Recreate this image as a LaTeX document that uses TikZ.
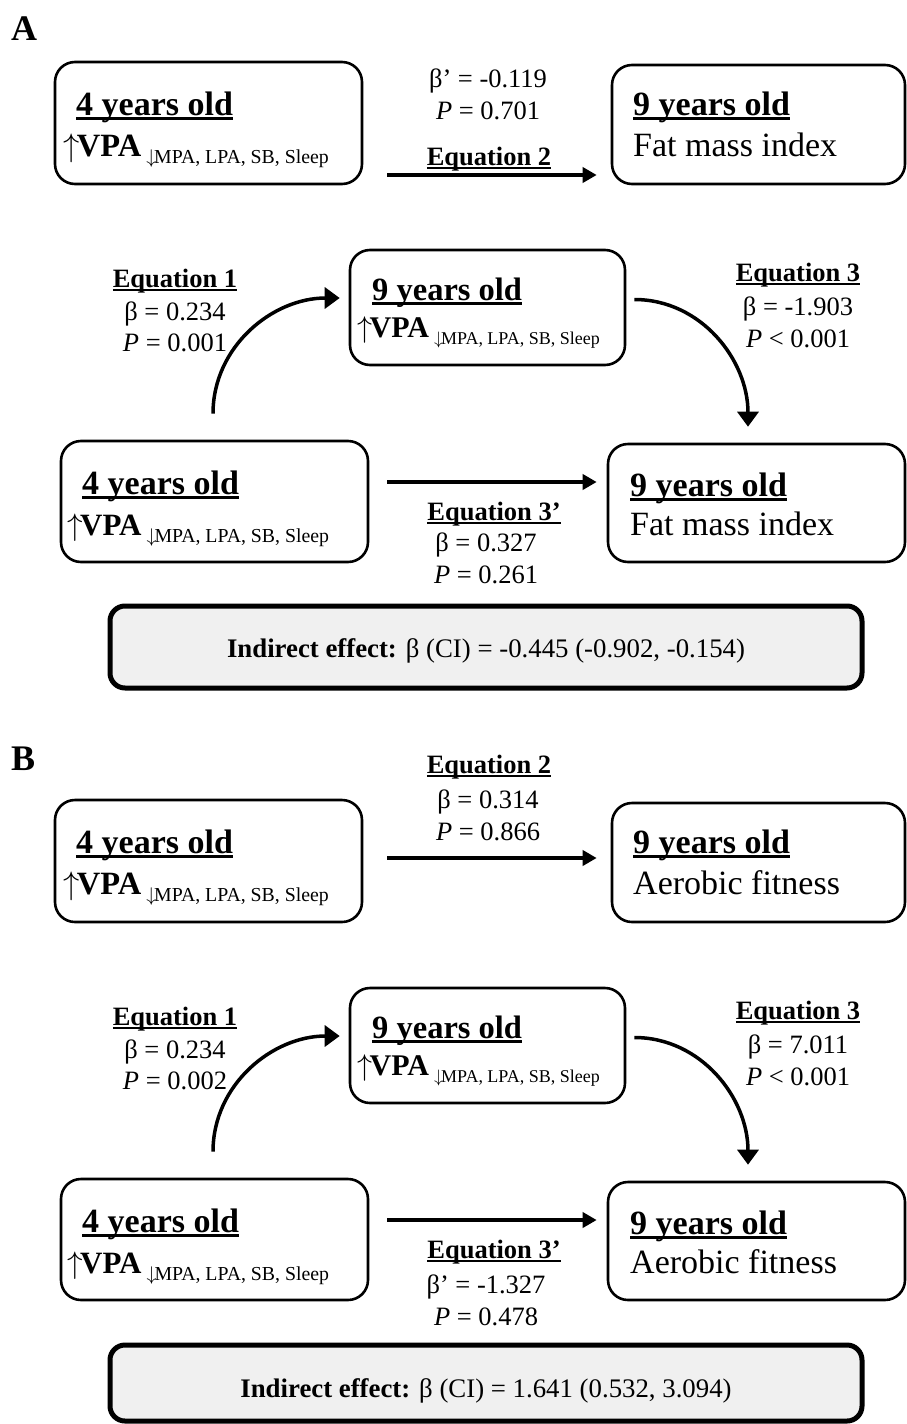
\RequirePackage{fix-cm}
\documentclass[tikz,border=0pt]{standalone}
\usepackage{fontspec}
\setmainfont{Liberation Serif}
\usetikzlibrary{arrows.meta,calc}
\newcommand\ulx[1]{\setbox0\hbox{#1}\rlap{\rule[-0.14em]{\wd0}{0.075em}}\box0}
\newcommand\fsH{\fontsize{34}{40}\selectfont}
\newcommand\fsL{\fontsize{26.5}{30}\selectfont}
\newcommand\fsI{\fontsize{26.8}{32}\selectfont}
\newcommand\fsP{\fontsize{36}{40}\selectfont}
% #1 size of VPA, #2 size of subscript
\newcommand\vpaline[2]{{\fontsize{#1}{#1}\selectfont\(\uparrow\)\kern-2.5pt\textbf{VPA}}\kern5pt{\fontsize{#2}{#2}\selectfont\raisebox{-7pt}{\(\downarrow\)\kern-2pt MPA, LPA, SB, Sleep}}}
\definecolor{boxgray}{HTML}{F0F0F0}
% skeleton of one panel: #1 prefix, #2 outcome text, #3 y of top arrow
\newcommand\skel[3]{%
  \node[box, minimum width=307pt, minimum height=122pt] (#1a) at (208.5,123) {};
  \node[box, minimum width=293pt, minimum height=119pt] (#1b) at (758.5,124.5) {};
  \node[box, minimum width=275pt, minimum height=115pt] (#1m) at (487.5,307.5) {};
  \node[box, minimum width=307pt, minimum height=121pt] (#1l) at (214.5,501.5) {};
  \node[box, minimum width=297pt, minimum height=118pt] (#1r) at (756.5,503) {};
  \node[txt] (#1at) at (76,115) {\fsH\bfseries\ulx{4 years old}};
  \node[txt] (#1av) at (63,156) {\vpaline{32.5}{19.8}};
  \node[txt] (#1bt) at (633,115) {\fsH\bfseries\ulx{9 years old}};
  \node[txt] (#1bv) at (633,156) {\fsH #2};
  \node[txt] (#1mt) at (372,300) {\fontsize{32.5}{36}\selectfont\bfseries\ulx{9 years old}};
  \node[txt] (#1mv) at (357,337) {\vpaline{30}{18}};
  \node[txt] (#1lt) at (82,494) {\fsH\bfseries\ulx{4 years old}};
  \node[txt] (#1lv) at (67,535) {\vpaline{31}{19.8}};
  \node[txt] (#1rt) at (630,496) {\fsH\bfseries\ulx{9 years old}};
  \node[txt] (#1rv) at (630,535) {\fsH #2};
  \draw[arr] ($(#1a.east)+(24,#3-123)$) -- ($(#1b.west)+(-14,#3-124.5)$);
  \draw[arr] ($(#1l.east)+(18,-19.5)$) -- ($(#1r.west)+(-10,-21)$);
  \draw[carr] ($(#1l.north)+(-1.5,-26)$) to[out=90,in=180] ($(#1m.west)+(-9,-9.5)$);
  \draw[carr] ($(#1m.east)+(8,-8)$) to[out=0,in=90] ($(#1r.north)+(-8.5,-16)$);
}
\begin{document}
\begin{tikzpicture}[x=1pt,y=-1pt,
  box/.style={draw, line width=2.6pt, rounded corners=20pt, inner sep=0pt},
  ibox/.style={draw, line width=5pt, rounded corners=15pt, fill=boxgray, inner sep=0pt},
  txt/.style={anchor=base west, inner sep=0pt},
  lab/.style={anchor=base, inner sep=0pt, font=\fsL},
  arr/.style={line width=3.5pt, -{Triangle[length=14pt,width=15pt]}},
  carr/.style={line width=3.5pt, -{Triangle[length=15pt,width=21pt]}}]
\useasboundingbox (0,0) rectangle (906,1424);
% ---------- Panel A ----------
\node[txt, font=\fsP\bfseries] (pA) at (11,40) {A};
\begin{scope}
\skel{A}{Fat mass index}{175}
\node[lab] (A2a) at (488,87) {β’ = -0.119};
\node[lab] (A2b) at (488,119) {\textit{P} = 0.701};
\node[lab] (A2c) at (489,165) {\bfseries\ulx{Equation 2}};
\node[lab] (A1a) at (175,287) {\bfseries\ulx{Equation 1}};
\node[lab] (A1b) at (175,320) {β = 0.234};
\node[lab] (A1c) at (175,351) {\textit{P} = 0.001};
\node[lab] (A3a) at (798,281) {\bfseries\ulx{Equation 3}};
\node[lab] (A3b) at (798,315) {β = -1.903};
\node[lab] (A3c) at (798,347) {\textit{P} < 0.001};
\node[lab] (A4a) at (494,520) {\bfseries\ulx{Equation 3’}};
\node[lab] (A4b) at (486,551) {β = 0.327};
\node[lab] (A4c) at (486,583) {\textit{P} = 0.261};
\node[ibox, minimum width=752pt, minimum height=82pt] (AI) at (486,647) {};
\node[anchor=base, inner sep=0pt, font=\fsI] (AIt) at (486,657) {\textbf{Indirect effect:} β (CI) = -0.445 (-0.902, -0.154)};
\end{scope}
% ---------- Panel B ----------
\node[txt, font=\fsP\bfseries] (pB) at (11,770) {B};
\begin{scope}[yshift=-738pt]
\skel{B}{Aerobic fitness}{120}
\node[lab] (B2a) at (489,35) {\bfseries\ulx{Equation 2}};
\node[lab] (B2b) at (488,70) {β = 0.314};
\node[lab] (B2c) at (488,102) {\textit{P} = 0.866};
\node[lab] (B1a) at (175,287) {\bfseries\ulx{Equation 1}};
\node[lab] (B1b) at (175,320) {β = 0.234};
\node[lab] (B1c) at (175,351) {\textit{P} = 0.002};
\node[lab] (B3a) at (798,281) {\bfseries\ulx{Equation 3}};
\node[lab] (B3b) at (798,315) {β = 7.011};
\node[lab] (B3c) at (798,347) {\textit{P} < 0.001};
\node[lab] (B4a) at (494,520) {\bfseries\ulx{Equation 3’}};
\node[lab] (B4b) at (486,555) {β’ = -1.327};
\node[lab] (B4c) at (486,587) {\textit{P} = 0.478};
\node[ibox, minimum width=752pt, minimum height=76pt] (BI) at (486,645) {};
\node[anchor=base, inner sep=0pt, font=\fsI] (BIt) at (486,659) {\textbf{Indirect effect:} β (CI) = 1.641 (0.532, 3.094)};
\end{scope}
\end{tikzpicture}
\end{document}
